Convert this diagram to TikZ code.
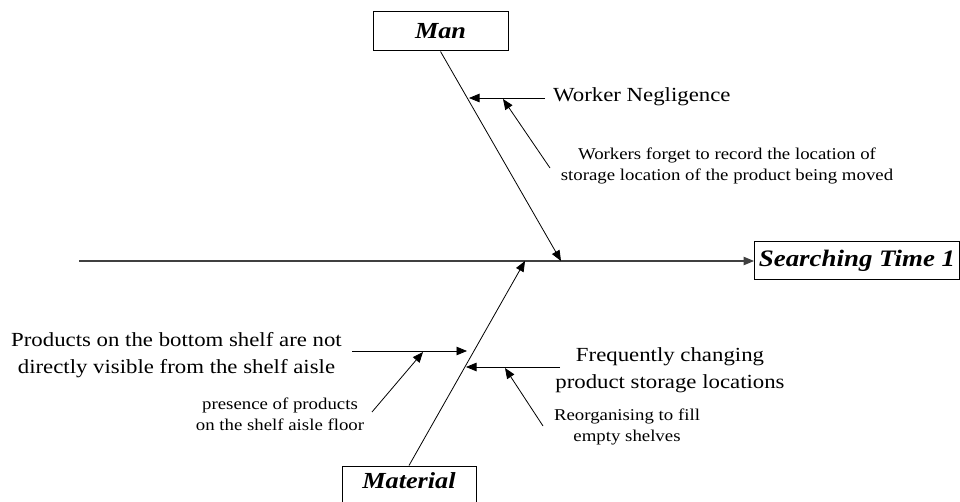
\documentclass[tikz,border=0pt]{standalone}
\usepackage{fontspec}
\setmainfont{Liberation Serif}[FakeStretch=1.14]
\usetikzlibrary{arrows.meta}
\begin{document}
\begin{tikzpicture}[x=1pt,y=-1pt,
  box/.style={draw, line width=1pt, inner sep=0pt,
    font=\fontsize{23}{27}\selectfont\bfseries\itshape},
  bone/.style={line width=0.8pt, -{Triangle[length=10.5pt,width=8.5pt]}},
  cause/.style={font=\fontsize{20}{27}\selectfont, align=center, inner sep=0pt},
  subcause/.style={font=\fontsize{16.5}{20.5}\selectfont, align=center, inner sep=0pt},
]
\useasboundingbox (0,0) rectangle (960,502);

% category boxes and the effect
\node[box, minimum width=135pt, minimum height=39pt] (man) at (440.5,31.5) {Man};
\node[box, minimum width=205pt, minimum height=38pt,
      font=\fontsize{23.6}{27}\selectfont\bfseries\itshape] (effect) at (857,261) {Searching Time 1};
\node[box, minimum width=134pt, minimum height=39pt, text depth=9pt] (mat) at (409,485.5) {Material};

% spine
\coordinate (tail) at (79,261);
\draw[bone, line width=1.1pt, black!75] (tail) -- (effect.west);

% main bones
\coordinate (manhit) at (561,261);
\coordinate (mathit) at (525,261);
\draw[bone] (man.south) -- (manhit);
\draw[bone] (mat.north) -- (mathit);

% Man: worker negligence
\node[cause, anchor=base west] (wn) at (553,102) {Worker Negligence};
\coordinate (wnstart) at (545,98);
\coordinate (wnhit) at (469,98);
\draw[bone] (wnstart) -- (wnhit);

\node[subcause] (forget) at (727,166) {Workers forget to record the location of\\storage location of the product being moved};
\coordinate (forgetstart) at (550,168);
\coordinate (forgethit) at (503,99);
\draw[bone] (forgetstart) -- (forgethit);

% Material: bottom shelf visibility
\node[cause] (shelf) at (176.5,355) {Products on the bottom shelf are not\\directly visible from the shelf aisle};
\coordinate (shelfstart) at (352,351);
\coordinate (shelfhit) at (467,351);
\draw[bone] (shelfstart) -- (shelfhit);

\node[subcause] (floor) at (280,414.5) {presence of products\\on the shelf aisle floor};
\coordinate (floorstart) at (372,412);
\coordinate (floorhit) at (423,352);
\draw[bone] (floorstart) -- (floorhit);

% Material: changing storage locations
\node[cause] (change) at (670,370) {Frequently changing\\product storage locations};
\coordinate (changestart) at (560,367);
\coordinate (changehit) at (466,367);
\draw[bone] (changestart) -- (changehit);

\node[subcause] (reorg) at (627,427) {Reorganising to fill\\empty shelves};
\coordinate (reorgstart) at (543,426);
\coordinate (reorghit) at (505,368);
\draw[bone] (reorgstart) -- (reorghit);
\end{tikzpicture}
\end{document}
